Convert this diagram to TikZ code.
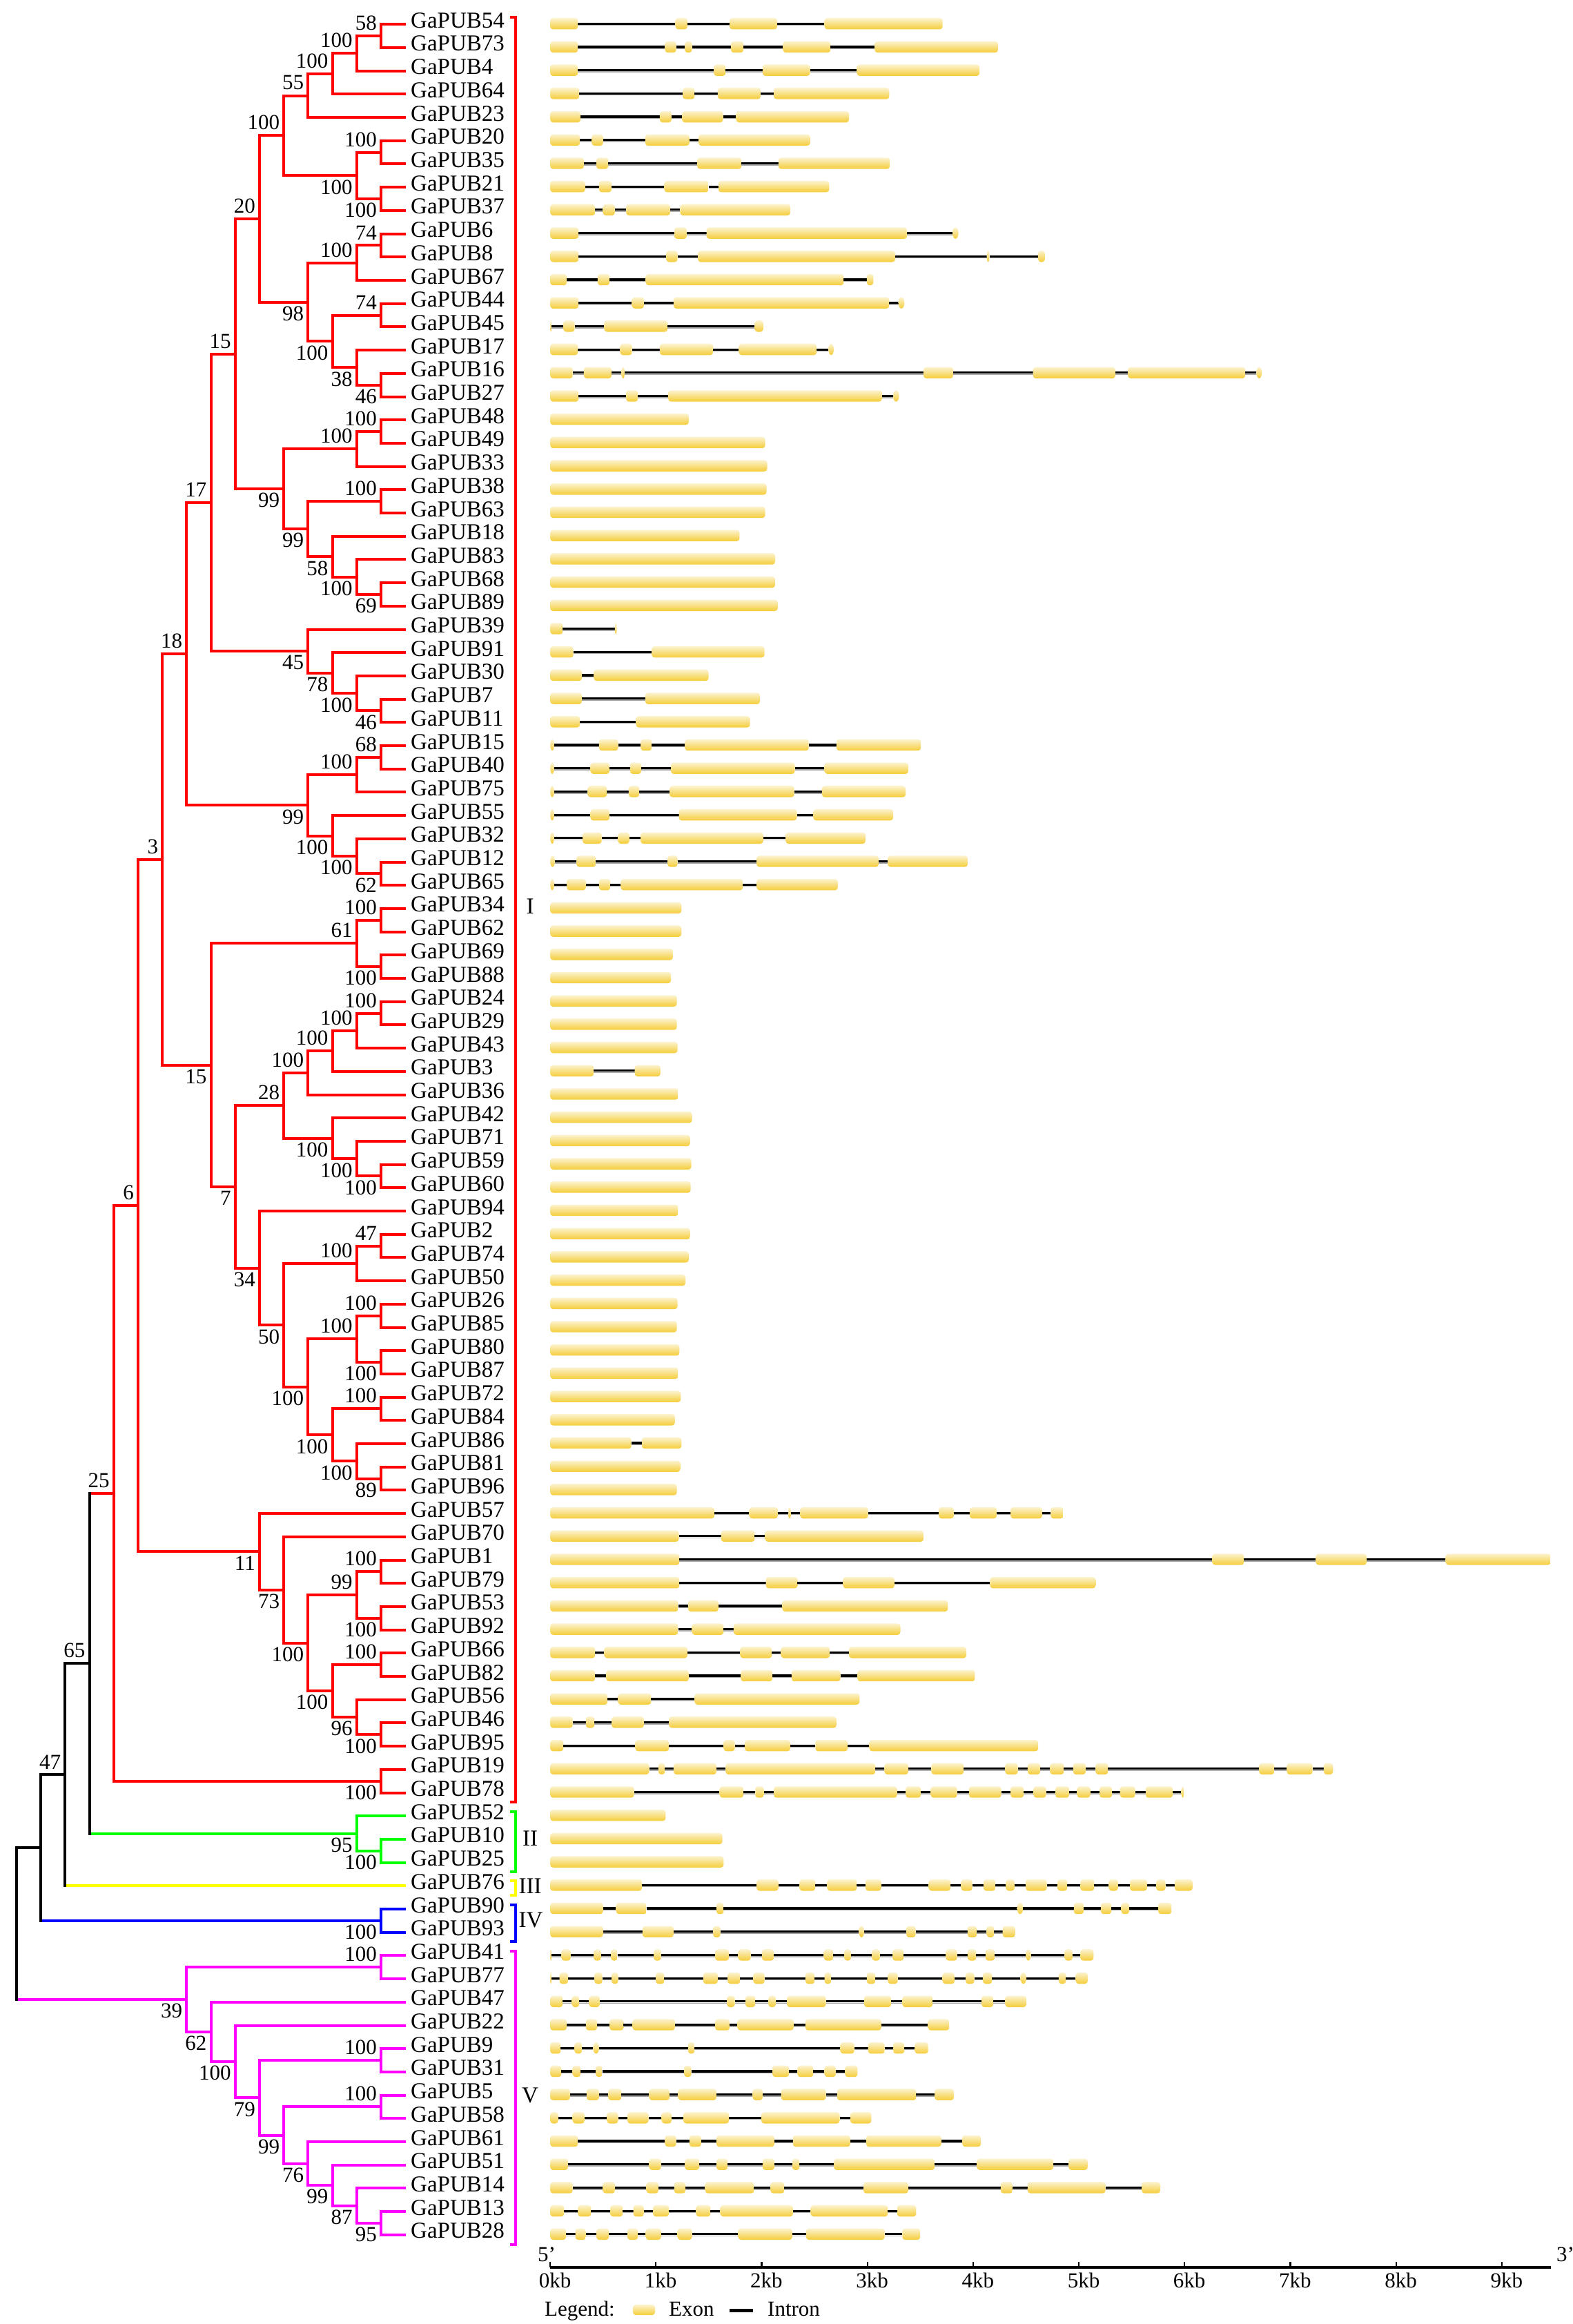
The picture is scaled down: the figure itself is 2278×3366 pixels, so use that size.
\documentclass[tikz,border=0pt]{standalone}
\usepackage{fontspec}
\setmainfont{Liberation Serif}
\usetikzlibrary{calc}
\definecolor{exT}{HTML}{FCF3CF}
\definecolor{exB}{HTML}{F5CD3A}
\definecolor{cR}{HTML}{FF0000}
\definecolor{cG}{HTML}{00FF00}
\definecolor{cY}{HTML}{FFFF00}
\definecolor{cB}{HTML}{0000FF}
\definecolor{cM}{HTML}{FF00FF}
\definecolor{cK}{HTML}{000000}
\tikzset{
 sBr/.style={line width=4pt, draw=#1},
 sBk/.style={line width=4pt, draw=#1},
 sLeaf/.style={font=\fontsize{33}{33}\selectfont, inner sep=0pt, anchor=base west},
 sBS/.style={font=\fontsize{31}{31}\selectfont, inner sep=0pt},
 sCl/.style={font=\fontsize{33}{33}\selectfont, inner sep=0pt},
 sTxt/.style={font=\fontsize{31}{31}\selectfont, inner sep=0pt},
 sEx/.style={top color=exT, bottom color=exB},
 sIn/.style={line width=3.2pt, draw=cK},
 sInSh/.style={line width=1.4pt, draw=black!35},
}
\newcommand\ExonAt[3]{%
  \pgfmathsetmacro\exa{780+0.9554*#1}%
  \pgfmathsetmacro\exb{780+0.9554*#2}%
  \pgfmathsetmacro\exw{\exb-\exa}%
  \ifdim\exw pt<9pt
    \pgfmathsetmacro\exc{(\exa+\exb)/2}%
    \pgfmathsetmacro\exr{\exw/2}%
    \shade[sEx] (\exc,#3) ellipse [x radius=\exr pt, y radius=8.2pt];
  \else
    \shade[sEx, rounded corners=4pt] (\exa,{#3-8.2}) rectangle (\exb,{#3+8.2});
  \fi}
\newcommand\GeneRow[2]{%
  \pgfmathsetmacro\gy{34.3+33.7*#1}%
  \foreach \a/\b [remember=\b as \pb (initially 18)] in {#2} {%
    \pgfmathsetmacro\ia{780+0.9554*\pb}%
    \pgfmathsetmacro\ib{780+0.9554*\a}%
    \draw[sInSh] (\ia,{\gy+2.4}) -- (\ib,{\gy+2.4});
    \draw[sIn] (\ia,\gy) -- (\ib,\gy);
    \ExonAt{\a}{\b}{\gy}%
  }}
\newcommand\BootLab[3]{%
  \ifx u#3\node[sBS, anchor=south east] (b#1) at ([xshift=-6pt,yshift=8pt]#1) {#2};\fi
  \ifx d#3\node[sBS, anchor=north east] (b#1) at ([xshift=-6pt,yshift=-6pt]#1) {#2};\fi}
\newcommand\TreeNode[7]{%
  \coordinate (tmp) at ($(#3)!0.5!(#4)$);
  \coordinate (#1) at (X#2 |- tmp);
  \draw[sBr=#5] (#3) -| (#1) |- (#4);
  \BootLab{#1}{#6}{#7}}
\newcommand\BackNode[8]{%
  \coordinate (tmp) at ($(#3)!0.5!(#4)$);
  \coordinate (#1) at (X#2 |- tmp);
  \draw[sBr=#5] (#3) -- (#3 -| #1);
  \draw[sBr=#6] (#4) -- (#4 -| #1);
  \draw[sBr=cK, line cap=rect] (#3 -| #1) -- (#4 -| #1);
  \BootLab{#1}{#7}{#8}}
\begin{document}
\begin{tikzpicture}[x=1pt,y=-1pt]
\useasboundingbox (0,0) rectangle (2278,3366);
\fill[white] (0,0) rectangle (2278,3366);
\foreach \k in {0,...,15} {\coordinate (X\k) at ({24+35.2*\k},0);}
% leaves
\foreach \n [count=\i from 0] in {54,73,4,64,23,20,35,21,37,6,8,67,44,45,17,16,27,48,49,33,38,63,18,83,68,89,39,91,30,7,11,15,40,75,55,32,12,65,34,62,69,88,24,29,43,3,36,42,71,59,60,94,2,74,50,26,85,80,87,72,84,86,81,96,57,70,1,79,53,92,66,82,56,46,95,19,78,52,10,25,76,90,93,41,77,47,22,9,31,5,58,61,51,14,13,28} {
  \coordinate (L\n) at (588,{35.3+33.7*\i});
  \node[sLeaf] (t\n) at (595,{40.3+33.7*\i}) {GaPUB\n};
}
% ---------- gene structures
\GeneRow{0}{18/60,208/226,290/362,434/613}
\GeneRow{1}{18/60,192/209,222/233,292/311,371/443,510/697}
\GeneRow{2}{18/60,266/284,340/412,483/669}
\GeneRow{3}{18/62,219/237,272/337,357/532}
\GeneRow{4}{18/64,184/202,218/280,300/471}
\GeneRow{5}{18/63,81/98,162/229,243/412}
\GeneRow{6}{18/69,88/106,241/308,364/533}
\GeneRow{7}{18/71,92/111,191/258,273/441}
\GeneRow{8}{18/86,98/116,133/200,215/382}
\GeneRow{9}{18/61,206/225,255/559,628/637}
\GeneRow{10}{18/61,194/211,242/541,680/684,758/768}
\GeneRow{11}{18/43,90/108,163/463,498/508}
\GeneRow{12}{18/61,142/160,205/532,546/555}
\GeneRow{13}{18/20,38/55,100/196,328/341}
\GeneRow{14}{18/60,124/142,184/265,304/422,440/448}
\GeneRow{15}{18/52,69/111,126/131,584/629,750/875,894/1072,1089/1097}
\GeneRow{16}{18/61,133/151,197/521,538/547}
\GeneRow{17}{18/228}
\GeneRow{18}{18/344}
\GeneRow{19}{18/347}
\GeneRow{20}{18/346}
\GeneRow{21}{18/344}
\GeneRow{22}{18/305}
\GeneRow{23}{18/359}
\GeneRow{24}{18/359}
\GeneRow{25}{18/363}
\GeneRow{26}{18/37,116/119}
\GeneRow{27}{18/53,172/343}
\GeneRow{28}{18/66,84/258}
\GeneRow{29}{18/66,162/336}
\GeneRow{30}{18/63,148/321}
\GeneRow{31}{18/24,92/121,155/172,222/410,452/580}
\GeneRow{32}{18/24,79/108,139/156,201/389,434/561}
\GeneRow{33}{18/24,75/104,137/153,199/388,430/557}
\GeneRow{34}{18/24,79/108,213/392,417/538}
\GeneRow{35}{18/24,67/96,121/138,155/341,375/496}
\GeneRow{36}{18/25,58/87,196/211,331/516,530/651}
\GeneRow{37}{18/24,43/72,92/109,125/310,331/454}
\GeneRow{38}{18/217}
\GeneRow{39}{18/217}
\GeneRow{40}{18/204}
\GeneRow{41}{18/201}
\GeneRow{42}{18/210}
\GeneRow{43}{18/210}
\GeneRow{44}{18/211}
\GeneRow{45}{18/84,146/185}
\GeneRow{46}{18/212}
\GeneRow{47}{18/233}
\GeneRow{48}{18/230}
\GeneRow{49}{18/232}
\GeneRow{50}{18/231}
\GeneRow{51}{18/212}
\GeneRow{52}{18/230}
\GeneRow{53}{18/228}
\GeneRow{54}{18/223}
\GeneRow{55}{18/211}
\GeneRow{56}{18/210}
\GeneRow{57}{18/214}
\GeneRow{58}{18/212}
\GeneRow{59}{18/216}
\GeneRow{60}{18/207}
\GeneRow{61}{18/141,157/217}
\GeneRow{62}{18/215}
\GeneRow{63}{18/210}
\GeneRow{64}{18/267,320/363,379/383,397/500,607/630,654/695,716/764,777/796}
\GeneRow{65}{18/213,277/328,344/584}
\GeneRow{66}{18/214,1022/1070,1179/1256,1376/1535}
\GeneRow{67}{18/214,345/393,462/540,685/845}
\GeneRow{68}{18/212,227/273,370/621}
\GeneRow{69}{18/212,233/281,296/549}
\GeneRow{70}{18/86,100/226,306/354,368/442,471/649}
\GeneRow{71}{18/86,103/228,307/355,384/458,484/662}
\GeneRow{72}{18/105,121/171,237/487}
\GeneRow{73}{18/52,72/85,111/160,198/452}
\GeneRow{74}{18/38,147/198,281/298,313/382,420/469,502/758}
\GeneRow{75}{18/168,182/192,205/270,284/511,525/561,596/645,708/727,742/761,776/797,811/830,845/864,1093/1116,1135/1174,1191/1205}
\GeneRow{76}{18/145,275/311,329/342,357/544,557/580,595/635,653/702,716/736,751/770,784/805,817/837,851/870,882/905,921/962,975/979}
\GeneRow{77}{18/193}
\GeneRow{78}{18/279}
\GeneRow{79}{18/281}
\GeneRow{80}{18/157,331/364,396/420,438/483,496/520,592/625,641/658,675/693,709/722,739/771,787/802,822/843,865/879,897/923,937/951,965/992}
\GeneRow{81}{18/98,118/164,270/281,726/735,812/827,853/869,884/896,940/960}
\GeneRow{82}{18/98,158/205,265/276,486/494,558/572,651/665,680/691,704/723}
\GeneRow{83}{18/20,35/49,84/95,110/120,175/186,268/289,303/322,339/357,433/447,464/474,506/518,537/554,618/635,651/664,678/692,739/747,798/810,822/842}
\GeneRow{84}{18/20,32/45,85/97,111/121,178/191,250/272,287/306,326/343,405/419,434/444,498/511,530/545,613/631,648/661,674/688,731/740,789/800,815/833}
\GeneRow{85}{18/37,51/62,77/93,286/298,314/329,349/360,377/436,494/535,552/598,672/690,708/740}
\GeneRow{86}{18/43,72/89,108/129,143/207,268/290,302/387,405/520,591/623}
\GeneRow{87}{18/34,55/66,83/92,227/237,458/479,500/525,538/555,571/591}
\GeneRow{88}{18/35,52/64,87/97,221/232,355/380,393/417,434/451,465/484}
\GeneRow{89}{18/48,73/92,106/126,168/199,212/270,325/340,368/436,453/573,601/630}
\GeneRow{90}{18/30,52/70,104/121,135/167,187/202,220/289,338/457,473/505}
\GeneRow{91}{18/60,192/209,229/247,270/358,386/473,497/611,643/671}
\GeneRow{92}{18/45,168/186,222/244,270/287,340/358,385/396,448/601,665/781,804/833}
\GeneRow{93}{18/52,98/116,164/182,206/223,253/327,352/373,493/561,701/719,742/860,915/943}
\GeneRow{94}{18/39,60/80,109/128,144/160,174/198,239/261,276/386,413/530,544/573}
\GeneRow{95}{18/42,56/72,88/107,135/151,163/186,211/233,303/385,406/525,552/579}
% ---------- tree: clade I
\TreeNode{a1}{15}{L54}{L73}{cR}{58}{u}
\TreeNode{a2}{14}{a1}{L4}{cR}{100}{u}
\TreeNode{a3}{13}{a2}{L64}{cR}{100}{u}
\TreeNode{a4}{12}{a3}{L23}{cR}{55}{u}
\TreeNode{a5}{15}{L20}{L35}{cR}{100}{u}
\TreeNode{a6}{15}{L21}{L37}{cR}{100}{d}
\TreeNode{a7}{14}{a5}{a6}{cR}{100}{d}
\TreeNode{a8}{11}{a4}{a7}{cR}{100}{u}
\TreeNode{a9}{15}{L6}{L8}{cR}{74}{u}
\TreeNode{a10}{14}{a9}{L67}{cR}{100}{u}
\TreeNode{a11}{15}{L44}{L45}{cR}{74}{u}
\TreeNode{a12}{15}{L16}{L27}{cR}{46}{d}
\TreeNode{a13}{14}{L17}{a12}{cR}{38}{d}
\TreeNode{a14}{13}{a11}{a13}{cR}{100}{d}
\TreeNode{a15}{12}{a10}{a14}{cR}{98}{d}
\TreeNode{a16}{10}{a8}{a15}{cR}{20}{u}
\TreeNode{a17}{15}{L48}{L49}{cR}{100}{u}
\TreeNode{a18}{14}{a17}{L33}{cR}{100}{u}
\TreeNode{a19}{15}{L38}{L63}{cR}{100}{u}
\TreeNode{a20}{15}{L68}{L89}{cR}{69}{d}
\TreeNode{a21}{14}{L83}{a20}{cR}{100}{d}
\TreeNode{a22}{13}{L18}{a21}{cR}{58}{d}
\TreeNode{a23}{12}{a19}{a22}{cR}{99}{d}
\TreeNode{a24}{11}{a18}{a23}{cR}{99}{d}
\TreeNode{a25}{9}{a16}{a24}{cR}{15}{u}
\TreeNode{a26}{15}{L7}{L11}{cR}{46}{d}
\TreeNode{a27}{14}{L30}{a26}{cR}{100}{d}
\TreeNode{a28}{13}{L91}{a27}{cR}{78}{d}
\TreeNode{a29}{12}{L39}{a28}{cR}{45}{d}
\TreeNode{a30}{8}{a25}{a29}{cR}{17}{u}
\TreeNode{a31}{15}{L15}{L40}{cR}{68}{u}
\TreeNode{a32}{14}{a31}{L75}{cR}{100}{u}
\TreeNode{a33}{15}{L12}{L65}{cR}{62}{d}
\TreeNode{a34}{14}{L32}{a33}{cR}{100}{d}
\TreeNode{a35}{13}{L55}{a34}{cR}{100}{d}
\TreeNode{a36}{12}{a32}{a35}{cR}{99}{d}
\TreeNode{a37}{7}{a30}{a36}{cR}{18}{u}
\TreeNode{a38}{15}{L34}{L62}{cR}{100}{u}
\TreeNode{a39}{15}{L69}{L88}{cR}{100}{d}
\TreeNode{a40}{14}{a38}{a39}{cR}{61}{u}
\TreeNode{a41}{15}{L24}{L29}{cR}{100}{u}
\TreeNode{a42}{14}{a41}{L43}{cR}{100}{u}
\TreeNode{a43}{13}{a42}{L3}{cR}{100}{u}
\TreeNode{a44}{12}{a43}{L36}{cR}{100}{u}
\TreeNode{a45}{15}{L59}{L60}{cR}{100}{d}
\TreeNode{a46}{14}{L71}{a45}{cR}{100}{d}
\TreeNode{a47}{13}{L42}{a46}{cR}{100}{d}
\TreeNode{a48}{11}{a44}{a47}{cR}{28}{u}
\TreeNode{a49}{15}{L2}{L74}{cR}{47}{u}
\TreeNode{a50}{14}{a49}{L50}{cR}{100}{u}
\TreeNode{a51}{15}{L26}{L85}{cR}{100}{u}
\TreeNode{a52}{15}{L80}{L87}{cR}{100}{d}
\TreeNode{a53}{14}{a51}{a52}{cR}{100}{u}
\TreeNode{a54}{15}{L72}{L84}{cR}{100}{u}
\TreeNode{a55}{15}{L81}{L96}{cR}{89}{d}
\TreeNode{a56}{14}{L86}{a55}{cR}{100}{d}
\TreeNode{a57}{13}{a54}{a56}{cR}{100}{d}
\TreeNode{a58}{12}{a53}{a57}{cR}{100}{d}
\TreeNode{a59}{11}{a50}{a58}{cR}{50}{d}
\TreeNode{a60}{10}{L94}{a59}{cR}{34}{d}
\TreeNode{a61}{9}{a48}{a60}{cR}{7}{d}
\TreeNode{a62}{8}{a40}{a61}{cR}{15}{d}
\TreeNode{a63}{6}{a37}{a62}{cR}{3}{u}
\TreeNode{a64}{15}{L1}{L79}{cR}{100}{u}
\TreeNode{a65}{15}{L53}{L92}{cR}{100}{d}
\TreeNode{a66}{14}{a64}{a65}{cR}{99}{u}
\TreeNode{a67}{15}{L66}{L82}{cR}{100}{u}
\TreeNode{a68}{15}{L46}{L95}{cR}{100}{d}
\TreeNode{a69}{14}{L56}{a68}{cR}{96}{d}
\TreeNode{a70}{13}{a67}{a69}{cR}{100}{d}
\TreeNode{a71}{12}{a66}{a70}{cR}{100}{d}
\TreeNode{a72}{11}{L70}{a71}{cR}{73}{d}
\TreeNode{a73}{10}{L57}{a72}{cR}{11}{d}
\TreeNode{a74}{5}{a63}{a73}{cR}{6}{u}
\TreeNode{a75}{15}{L19}{L78}{cR}{100}{d}
\TreeNode{cI}{4}{a74}{a75}{cR}{25}{u}
% clade II
\TreeNode{b1}{15}{L10}{L25}{cG}{100}{d}
\TreeNode{cII}{14}{L52}{b1}{cG}{95}{d}
% clade IV
\TreeNode{cIV}{15}{L90}{L93}{cB}{100}{d}
% clade V
\TreeNode{v1}{15}{L41}{L77}{cM}{100}{u}
\TreeNode{v2}{15}{L9}{L31}{cM}{100}{u}
\TreeNode{v3}{15}{L5}{L58}{cM}{100}{u}
\TreeNode{v4}{15}{L13}{L28}{cM}{95}{d}
\TreeNode{v5}{14}{L14}{v4}{cM}{87}{d}
\TreeNode{v6}{13}{L51}{v5}{cM}{99}{d}
\TreeNode{v7}{12}{L61}{v6}{cM}{76}{d}
\TreeNode{v8}{11}{v3}{v7}{cM}{99}{d}
\TreeNode{v9}{10}{v2}{v8}{cM}{79}{d}
\TreeNode{v10}{9}{L22}{v9}{cM}{100}{d}
\TreeNode{v11}{8}{L47}{v10}{cM}{62}{d}
\TreeNode{cV}{7}{v1}{v11}{cM}{39}{d}
% backbone
\BackNode{nb3}{3}{cI}{cII}{cR}{cG}{65}{u}
\BackNode{nb2}{2}{nb3}{L76}{cK}{cY}{47}{u}
\BackNode{nb1}{1}{nb2}{cIV}{cK}{cB}{}{n}
\BackNode{nb0}{0}{nb1}{cV}{cK}{cM}{}{n}
% clade brackets
\draw[sBk=cR] (739,25) -- (747,25) -- (747,2610) -- (739,2610);
\draw[sBk=cG] (739,2624) -- (747,2624) -- (747,2711) -- (739,2711);
\draw[sBk=cY] (739,2724) -- (747,2724) -- (747,2745) -- (739,2745);
\draw[sBk=cB] (739,2759) -- (747,2759) -- (747,2812) -- (739,2812);
\draw[sBk=cM] (739,2826) -- (747,2826) -- (747,3251) -- (739,3251);
\node[sCl] (k1) at (768,1313) {I};
\node[sCl] (k2) at (768,2663) {II};
\node[sCl] (k3) at (768,2732) {III};
\node[sCl] (k4) at (769,2781) {IV};
\node[sCl] (k5) at (768,3035) {V};
% axis
\coordinate (ax0) at (797,3284);
\coordinate (ax1) at (2246.5,3284);
\draw[line width=3.6pt, cK] (ax0) -- (ax1);
\foreach \k in {0,...,9} {
  \draw[line width=2.2pt, cK] ({797+153.2*\k},3284) -- ({797+153.2*\k},3276);
  \node[sTxt, anchor=base] (tk\k) at ({804+153.2*\k},3313) {\k kb};
}
\node[sTxt, anchor=base west] (p5) at (779,3275) {5'};
\node[sTxt, anchor=base west] (p3) at (2255,3275) {3'};
% legend
\node[sTxt, anchor=base west] (lg) at (789,3354) {Legend:};
\shade[sEx, rounded corners=4pt] (917,3338) rectangle (949,3353);
\node[sTxt, anchor=base west] (lgE) at (969,3354) {Exon};
\draw[line width=5pt, cK] (1057,3346) -- (1091,3346);
\node[sTxt, anchor=base west] (lgI) at (1112,3354) {Intron};
\end{tikzpicture}
\end{document}
